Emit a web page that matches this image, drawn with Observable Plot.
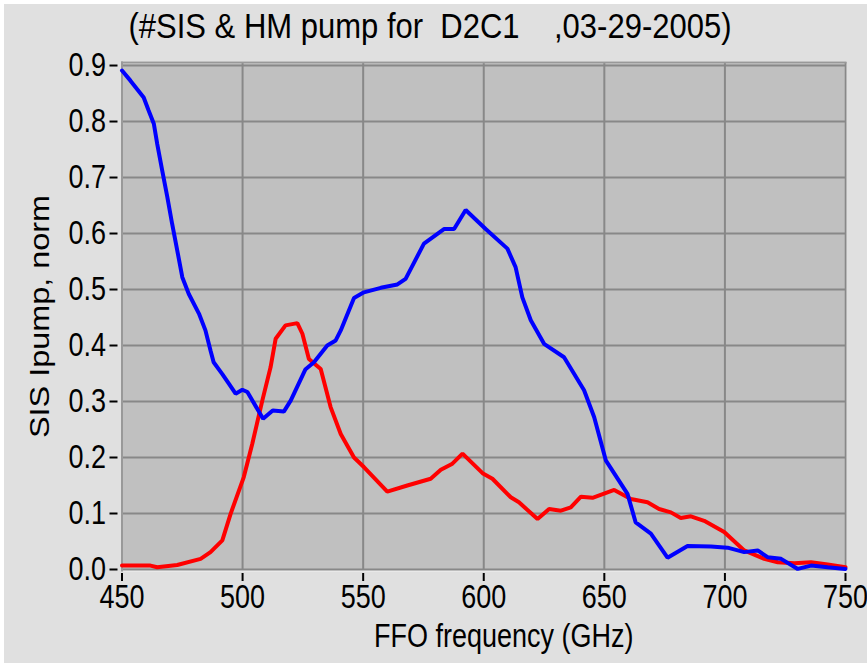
<!DOCTYPE html>
<html>
<head>
<meta charset="utf-8">
<script src="https://cdn.jsdelivr.net/npm/d3@7"></script>
<script src="https://cdn.jsdelivr.net/npm/@observablehq/plot@0.6"></script>
<style>
  html, body { margin: 0; padding: 0; background: #ffffff; }
  #page { position: relative; width: 867px; height: 671px; overflow: hidden;
          font-family: "Liberation Sans", Arial, sans-serif; }
  #bg { position: absolute; left: 4px; top: 4px; width: 863px; height: 659px; background: #e0e0e0; }
  #title { position: absolute; left: 0; top: 9px; width: 860px; text-align: center;
           font-size: 31px; line-height: 34px; white-space: pre; color: #000;
           transform: scaleY(1.15); transform-origin: center; }
  #chart { position: absolute; left: 0; top: 45px; }
</style>
</head>
<body>
<div id="page">
  <div id="bg"></div>
  <div id="title"></div>
  <div id="chart"></div>
</div>
<script>
const titleText = "(#SIS & HM pump for  D2C1    ,03-29-2005)";
const xLabel = "FFO frequency (GHz)";
const yLabel = "SIS Ipump, norm";

const xTicks = [450, 500, 550, 600, 650, 700, 750];
const yTicks = [0.0, 0.1, 0.2, 0.3, 0.4, 0.5, 0.6, 0.7, 0.8, 0.9];
const xDomain = [450, 750];
const yDomain = [-0.0018, 0.9054];

// SIS pump (blue)
const sisFreq = [450, 453.5, 459, 461, 463.2, 464.6, 466.7, 468.8, 470.8, 472.9, 475, 477.7, 481.9, 484.6, 486.7, 488,
  491.6, 494.3, 497.1, 499.9, 502, 508.5, 512.5, 517.1, 520, 526, 529.6, 535.1, 538.6, 540.7, 546.2, 550.3, 557.3,
  564.2, 567.6, 575.2, 583.5, 587.7, 592.5, 600.8, 609.8, 613.2, 616, 619.5, 625, 633.3, 641.6, 645.8, 650.6,
  659.6, 663, 669.3, 676.2, 684.5, 694.2, 701.1, 708, 713.6, 717.7, 723.3, 730.2, 735.7, 742.6, 750];
const sisPump = [0.891, 0.873, 0.843, 0.820, 0.796, 0.760, 0.712, 0.665, 0.617, 0.570, 0.522, 0.492, 0.457, 0.427, 0.391, 0.370,
  0.349, 0.332, 0.314, 0.321, 0.317, 0.269, 0.284, 0.282, 0.302, 0.357, 0.370, 0.400, 0.409, 0.427, 0.485, 0.495, 0.503,
  0.509, 0.519, 0.582, 0.608, 0.608, 0.642, 0.608, 0.573, 0.540, 0.486, 0.445, 0.403, 0.379, 0.320, 0.272, 0.195,
  0.135, 0.084, 0.064, 0.021, 0.042, 0.041, 0.039, 0.031, 0.034, 0.022, 0.019, 0.001, 0.007, 0.004, 0.001];

// HM pump (red)
const hmFreq = [450, 461.8, 464.6, 472.9, 482.6, 486.7, 491.6, 495, 500.5, 504, 508.2, 511.6, 513.7, 517.8, 522.7, 524.8,
  527.5, 532.4, 536.5, 540.7, 546.2, 550.3, 560, 568.3, 578, 582.2, 587, 591.2, 599.5, 603.6, 611.2, 614.6, 622.3,
  627.1, 632, 636.1, 640.3, 645.1, 654.1, 661, 667.9, 672.7, 677.6, 681.7, 685.9, 691.4, 699.7, 708, 716.3, 721.9,
  728.8, 735.7, 742.6, 750];
const hmPump = [0.007, 0.007, 0.004, 0.008, 0.019, 0.031, 0.052, 0.099, 0.165, 0.224, 0.302, 0.361, 0.412, 0.436, 0.440, 0.421,
  0.376, 0.358, 0.290, 0.242, 0.200, 0.183, 0.139, 0.150, 0.162, 0.178, 0.189, 0.207, 0.172, 0.162, 0.129, 0.120, 0.090,
  0.108, 0.105, 0.111, 0.130, 0.128, 0.142, 0.126, 0.120, 0.108, 0.102, 0.092, 0.095, 0.087, 0.067, 0.034, 0.019, 0.013,
  0.011, 0.013, 0.009, 0.004];

const sis = sisFreq.map((f, i) => ({f, v: sisPump[i]}));
const hm = hmFreq.map((f, i) => ({f, v: hmPump[i]}));

document.getElementById("title").textContent = titleText;

const gridColor = "#888888";
const chart = Plot.plot({
  width: 867,
  height: 626,
  marginLeft: 121.5,
  marginRight: 22,
  marginTop: 17,
  marginBottom: 101,
  x: {domain: xDomain, ticks: xTicks, label: null},
  y: {domain: yDomain, ticks: yTicks, label: null},
  style: {background: "transparent", fontFamily: "'Liberation Sans', Arial, sans-serif", fontSize: "27px", color: "#000"},
  marks: [
    Plot.frame({fill: "#c0c0c0", stroke: "#f2f2f2", strokeWidth: 2}),
    Plot.gridX(xTicks, {stroke: gridColor, strokeOpacity: 1, strokeWidth: 2}),
    Plot.gridY(yTicks, {stroke: gridColor, strokeOpacity: 1, strokeWidth: 2}),
    Plot.frame({anchor: "top", stroke: "#999999", strokeWidth: 2}),
    Plot.frame({anchor: "left", stroke: "#999999", strokeWidth: 2}),
    Plot.line(hm, {x: "f", y: "v", stroke: "#ff0000", strokeWidth: 4, strokeLinejoin: "miter"}),
    Plot.line(sis, {x: "f", y: "v", stroke: "#0000ff", strokeWidth: 4, strokeLinejoin: "miter"}),
    Plot.axisX(xTicks, {tickSize: 8, tickPadding: 6, dy: 3, strokeWidth: 2, tickFormat: d => String(d), label: null}),
    Plot.axisY(yTicks, {tickSize: 8, tickPadding: 4, dx: -4, strokeWidth: 2, tickFormat: d3.format(".1f"), label: null}),
    Plot.text([xLabel], {x: () => (xDomain[0] + xDomain[1]) / 2, frameAnchor: "bottom", dx: 20, dy: 75, fontSize: 27, text: d => d}),
    Plot.text([yLabel], {x: () => xDomain[0], y: () => (yDomain[0] + yDomain[1]) / 2, dx: -82, rotate: -90, fontSize: 27, text: d => d})
  ]
});
document.getElementById("chart").appendChild(chart);

// The reference's lettering is taller than it is wide: stretch each text vertically about its own centre.
const stretch = 1.2;
chart.querySelectorAll("text").forEach(t => {
  const bb = t.getBBox();
  const cx = bb.x + bb.width / 2, cy = bb.y + bb.height / 2;
  const own = t.getAttribute("transform") || "";
  const rotated = /rotate\(\s*-?90/.test(own);
  const sx = rotated ? stretch : 1, sy = rotated ? 1 : stretch;
  t.setAttribute("transform", `${own} translate(${cx},${cy}) scale(${sx},${sy}) translate(${-cx},${-cy})`.trim());
});
</script>
</body>
</html>
